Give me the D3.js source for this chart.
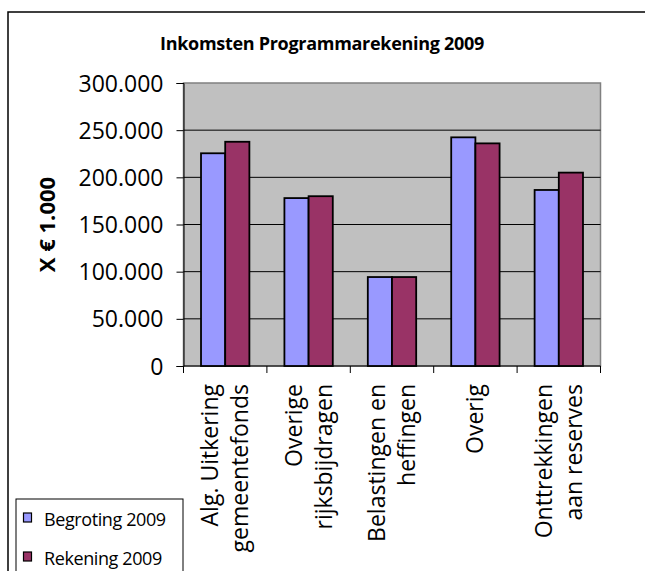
<!DOCTYPE html>
<html><head><meta charset="utf-8">
<script src="https://cdn.jsdelivr.net/npm/d3@7"></script>
<style>html,body{margin:0;background:#fff;overflow:hidden;} svg{display:block;} text{font-family:"Open Sans",sans-serif;}</style>
</head><body>
<svg id="c" width="645" height="571"></svg>
<script>
const categories = [["Alg. Uitkering","gemeentefonds"],["Overige","rijksbijdragen"],["Belastingen en","heffingen"],["Overig"],["Onttrekkingen","aan reserves"]];
const seriesNames = ["Begroting 2009","Rekening 2009"];
const begroting = [225500, 178000, 94300, 242400, 186600];
const rekening = [237700, 180000, 94300, 236000, 205000];
const yTicks = [0,50000,100000,150000,200000,250000,300000];
const colors = ["#9999FF","#993366"];

const svg = d3.select("#c");
svg.append("path").attr("d","M8,600 V12 H660").attr("fill","none").attr("stroke","#000").attr("stroke-width",1.5);

const L=183.5, R=600.5, T=83, B=366;
const x = d3.scaleBand().domain(d3.range(categories.length)).range([L,R]).paddingInner(0).paddingOuter(0);
const y = d3.scaleLinear().domain([0,300000]).range([B,T]);

svg.append("text").attr("x",322).attr("y",50).attr("text-anchor","middle")
  .attr("font-weight","bold").attr("font-size",18).attr("letter-spacing",-0.3).text("Inkomsten Programmarekening 2009");

svg.append("rect").attr("x",L).attr("y",T).attr("width",R-L).attr("height",B-T)
  .attr("fill","#C0C0C0").attr("stroke","#808080").attr("stroke-width",1.5);

svg.append("g").selectAll("line").data(yTicks.slice(1,-1)).join("line")
  .attr("x1",L).attr("x2",R).attr("y1",d=>y(d)).attr("y2",d=>y(d)).attr("stroke","#000").attr("stroke-width",1);

const fmt = v => v===0 ? "0" : d3.format(",")(v).replace(/,/g,".");
const ya = svg.append("g").attr("transform",`translate(${L},0)`)
  .call(d3.axisLeft(y).tickValues(yTicks).tickFormat(fmt).tickSize(7).tickPadding(13));
ya.select(".domain").attr("stroke","#000");
ya.selectAll("text").attr("font-size",23).attr("fill","#000").attr("font-family","'Open Sans',sans-serif").attr("dy","0.35em");

const xa = svg.append("g").attr("transform",`translate(0,${B})`);
xa.append("line").attr("x1",L).attr("x2",R).attr("stroke","#000");
xa.selectAll("line.t").data(d3.range(categories.length+1)).join("line").attr("class","t")
  .attr("x1",i=>L+i*x.bandwidth()).attr("x2",i=>L+i*x.bandwidth()).attr("y1",0).attr("y2",7).attr("stroke","#000");

const bw = x.bandwidth()*0.29;
const grp = svg.append("g");
[begroting, rekening].forEach((vals,s)=>{
  grp.selectAll("rect.s"+s).data(vals).join("rect").attr("class","s"+s)
    .attr("x",(d,i)=>x(i)+x.bandwidth()/2 - bw + s*bw)
    .attr("y",d=>y(d)).attr("width",bw).attr("height",d=>B-y(d))
    .attr("fill",colors[s]).attr("stroke","#000").attr("stroke-width",1.8);
});

categories.forEach((lines,i)=>{
  const cx = x(i)+x.bandwidth()/2;
  const n = lines.length, lh = 30;
  lines.forEach((t,j)=>{
    const off = (j-(n-1)/2)*lh;
    svg.append("text").attr("transform",`translate(${cx+off+8},384) rotate(-90)`)
      .attr("text-anchor","end").attr("font-size",23).text(t);
  });
});

svg.append("text").attr("transform",`translate(55,${(T+B)/2}) rotate(-90)`).attr("text-anchor","middle")
  .attr("font-weight","bold").attr("font-size",22).text("X € 1.000");

const lg = svg.append("g");
lg.append("rect").attr("x",16).attr("y",499).attr("width",167).attr("height",90).attr("fill","#fff").attr("stroke","#000");
seriesNames.forEach((n,i)=>{
  const yy = 520 + i*39;
  lg.append("rect").attr("x",23.5).attr("y",yy-7).attr("width",8).attr("height",9).attr("fill",colors[i]).attr("stroke","#000").attr("stroke-width",1.2);
  lg.append("text").attr("x",44).attr("y",yy+6).attr("font-size",18).attr("letter-spacing",-0.4).text(n);
});
</script>
</body></html>
